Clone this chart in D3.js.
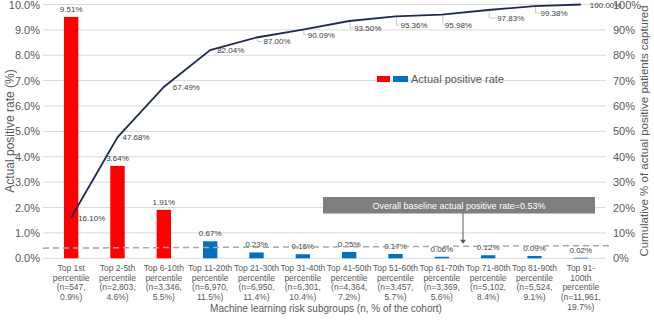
<!DOCTYPE html>
<html>
<head>
<meta charset="utf-8">
<script src="https://cdn.jsdelivr.net/npm/d3@7"></script>
<style>
	body { margin: 0; background: #fff; }
	text { font-family: "Liberation Sans", Arial, sans-serif; }
</style>
</head>
<body>
<svg id="chart" width="654" height="321"></svg>
<script>

// data
var groups = ['Top 1st percentile', 'Top 2-5th', 'Top 6-10th', 'Top 11-20th', 'Top 21-30th', 'Top 31-40th',
	'Top 41-50th', 'Top 51-60th', 'Top 61-70th', 'Top 71-80th', 'Top 81-90th', 'Top 91-100th'];
var groupLabels = [
	['Top 1st', 'percentile', '(n=547,', '0.9%)'],
	['Top 2-5th', 'percentile', '(n=2,803,', '4.6%)'],
	['Top 6-10th', 'percentile', '(n=3,346,', '5.5%)'],
	['Top 11-20th', 'percentile', '(n=6,970,', '11.5%)'],
	['Top 21-30th', 'percentile', '(n=6,950,', '11.4%)'],
	['Top 31-40th', 'percentile', '(n=6,301,', '10.4%)'],
	['Top 41-50th', 'percentile', '(n=4,364,', '7.2%)'],
	['Top 51-60th', 'percentile', '(n=3,457,', '5.7%)'],
	['Top 61-70th', 'percentile', '(n=3,369,', '5.6%)'],
	['Top 71-80th', 'percentile', '(n=5,102,', '8.4%)'],
	['Top 81-90th', 'percentile', '(n=5,524,', '9.1%)'],
	['Top 91-', '100th', 'percentile', '(n=11,961,', '19.7%)']
];
var positiveRate = [9.51, 3.64, 1.91, 0.67, 0.23, 0.16, 0.25, 0.17, 0.06, 0.12, 0.09, 0.02];
var cumulative = [16.10, 47.68, 67.49, 82.04, 87.00, 90.09, 93.50, 95.36, 95.98, 97.83, 99.38, 100.00];
var highRisk = 3; // first three groups drawn red
var leftTicks = [0, 1, 2, 3, 4, 5, 6, 7, 8, 9, 10];
var rightTicks = [0, 10, 20, 30, 40, 50, 60, 70, 80, 90, 100];
var baseline = 0.53;

// label nudges for the cumulative line (dx, dy in px)
var lineLabelShift = [[7, 4], [5, 3], [9, 3], [7, 3], [7, 7], [5, 8], [5, 10], [5, 12], [3, 13], [9, 11], [6, 10], [9, 3]];

var svg = d3.select('#chart');
var gray = '#595959';

var left = 43, right = 606;
var xScale = d3.scaleBand().domain(groups).range([48, 604]);
var yScale = d3.scaleLinear().domain([0, 10]).range([258.3, 4.5]);
var y2Scale = d3.scaleLinear().domain([0, 100]).range([258.3, 4.5]);
var bw = xScale.bandwidth() * 0.31;
function cx(i) { return xScale(groups[i]) + xScale.bandwidth() / 2; }

// gridlines
svg.selectAll('.grid').data(leftTicks).enter().append('line')
	.attr('x1', left).attr('x2', right)
	.attr('y1', function(d) { return yScale(d); })
	.attr('y2', function(d) { return yScale(d); })
	.attr('stroke', '#d9d9d9')
	.attr('stroke-width', 1);

// left axis labels
svg.selectAll('.ly').data(leftTicks).enter().append('text')
	.attr('x', 40)
	.attr('y', function(d) { return yScale(d) + 4; })
	.attr('text-anchor', 'end')
	.style('font-size', '11px')
	.style('fill', gray)
	.text(function(d) { return d.toFixed(1) + '%'; });

// right axis labels
svg.selectAll('.ry').data(rightTicks).enter().append('text')
	.attr('x', 613)
	.attr('y', function(d) { return y2Scale(d) + 4; })
	.attr('text-anchor', 'start')
	.style('font-size', '11px')
	.style('fill', gray)
	.text(function(d) { return d + '%'; });

// bars
svg.selectAll('.bar').data(positiveRate).enter().append('rect')
	.attr('x', function(d, i) { return cx(i) - bw / 2; })
	.attr('y', function(d) { return yScale(d); })
	.attr('width', bw)
	.attr('height', function(d) { return Math.max(yScale(0) - yScale(d), 0.6); })
	.style('fill', function(d, i) { return i < highRisk ? '#ff0000' : '#0070c0'; });

// bar value labels
svg.selectAll('.bl').data(positiveRate).enter().append('text')
	.attr('x', function(d, i) { return cx(i); })
	.attr('y', function(d) { return yScale(d) - 5; })
	.attr('text-anchor', 'middle')
	.style('font-size', '8px')
	.style('fill', '#404040')
	.text(function(d) { return d.toFixed(2) + '%'; });

// baseline dashed line (drawn slightly tilted as in the source)
svg.append('line')
	.attr('x1', left).attr('x2', 613)
	.attr('y1', yScale(baseline) + 3.3)
	.attr('y2', yScale(baseline) + 0.8)
	.attr('stroke', '#a6a6a6')
	.attr('stroke-width', 1.5)
	.style('stroke-dasharray', '6,4');

// baseline callout
svg.append('rect')
	.attr('x', 323).attr('y', 197)
	.attr('width', 272).attr('height', 16.5)
	.style('fill', '#7f7f7f');
svg.append('text')
	.attr('x', 459).attr('y', 209)
	.attr('text-anchor', 'middle')
	.style('font-size', '9px')
	.style('fill', '#fff')
	.text('Overall baseline actual positive rate=' + baseline.toFixed(2) + '%');
svg.append('line')
	.attr('x1', 463).attr('x2', 463)
	.attr('y1', 213).attr('y2', yScale(baseline) - 4)
	.attr('stroke', '#595959')
	.attr('stroke-width', 1);
svg.append('path')
	.attr('d', 'M460,' + (yScale(baseline) - 5) + 'L466,' + (yScale(baseline) - 5) + 'L463,' + (yScale(baseline) - 1) + 'Z')
	.style('fill', '#595959');

// cumulative line
var line = d3.line()
	.x(function(d, i) { return cx(i); })
	.y(function(d) { return y2Scale(d); });

svg.append('path')
	.datum(cumulative)
	.attr('d', line)
	.style('fill', 'none')
	.attr('stroke', '#1f2d4d')
	.attr('stroke-width', 1.8);

// leader lines for labels pushed away from the line
svg.selectAll('.lead').data(cumulative).enter()
	.filter(function(d, i) { return i >= 4 && i <= 10; })
	.append('path')
	.attr('d', function(d) {
		var i = cumulative.indexOf(d);
		var x0 = cx(i) + 1, y0 = y2Scale(d) + 1;
		var x1 = cx(i) + lineLabelShift[i][0] - 1, y1 = y2Scale(d) + lineLabelShift[i][1] - 3;
		return 'M' + x0 + ',' + y0 + 'L' + x0 + ',' + y1 + 'L' + x1 + ',' + y1;
	})
	.style('fill', 'none')
	.attr('stroke', '#bfbfbf')
	.attr('stroke-width', 0.8);

svg.selectAll('.cl').data(cumulative).enter().append('text')
	.attr('x', function(d, i) { return cx(i) + lineLabelShift[i][0]; })
	.attr('y', function(d, i) { return y2Scale(d) + lineLabelShift[i][1]; })
	.attr('text-anchor', 'start')
	.style('font-size', '8px')
	.style('fill', '#404040')
	.text(function(d) { return d.toFixed(2) + '%'; });

// x tick labels
groupLabels.forEach(function(lines, i) {
	var t = svg.append('text')
		.attr('x', cx(i))
		.attr('y', 271)
		.attr('text-anchor', 'middle')
		.style('font-size', '8.5px')
		.style('fill', gray);
	lines.forEach(function(s, k) {
		t.append('tspan').attr('x', cx(i)).attr('dy', k ? 9.7 : 0).text(s);
	});
});

// legend
svg.append('rect').attr('x', 377).attr('y', 76).attr('width', 13).attr('height', 6).style('fill', '#ff0000');
svg.append('rect').attr('x', 393).attr('y', 76).attr('width', 15).attr('height', 6).style('fill', '#0070c0');
svg.append('text')
	.attr('x', 411).attr('y', 83)
	.style('font-size', '11px')
	.style('fill', gray)
	.text('Actual positive rate');

// axis titles
svg.append('text')
	.attr('transform', 'translate(14,131) rotate(-90)')
	.attr('text-anchor', 'middle')
	.style('font-size', '12px')
	.style('fill', gray)
	.text('Actual positive rate (%)');

svg.append('text')
	.attr('transform', 'translate(648,131) rotate(-90)')
	.attr('text-anchor', 'middle')
	.style('font-size', '11.5px')
	.style('fill', gray)
	.text('Cumulative % of actual positive patients captured');

svg.append('text')
	.attr('x', 326).attr('y', 312)
	.attr('text-anchor', 'middle')
	.style('font-size', '10px')
	.style('fill', gray)
	.text('Machine learning risk subgroups (n, % of the cohort)');

</script>
</body>
</html>
